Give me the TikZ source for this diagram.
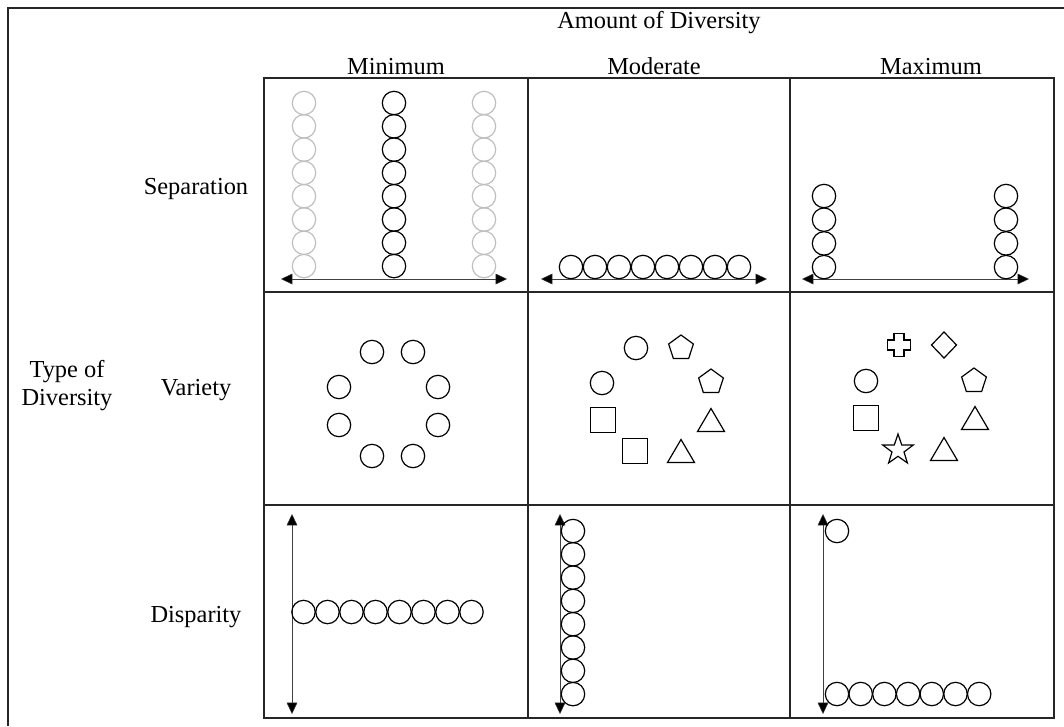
\documentclass[tikz,border=0pt]{standalone}
\usepackage{fontspec}
\setmainfont{Liberation Serif}
\usetikzlibrary{arrows.meta}

% small outlined shapes, centred at (#1,#2)
\newcommand{\cirk}[3][black]{\draw[shape line,draw=#1] (#2,#3) circle (11.7);}
\newcommand{\pentag}[2]{\draw[shape line,shift={(#1,#2)},yscale=-1]
  (90:13) -- (162:13) -- (234:13) -- (306:13) -- (18:13) -- cycle;}
\newcommand{\sqbox}[2]{\draw[shape line,shift={(#1,#2)}] (-12.5,-12.5) rectangle (12.5,12.5);}
\newcommand{\trig}[2]{\draw[shape line,shift={(#1,#2)},yscale=-1]
  (0,11.5) -- (13.5,-11.5) -- (-13.5,-11.5) -- cycle;}
\newcommand{\diam}[2]{\draw[shape line,shift={(#1,#2)}]
  (0,-13) -- (12.5,0) -- (0,13) -- (-12.5,0) -- cycle;}
\newcommand{\plusbox}[2]{\draw[shape line,shift={(#1,#2)}]
  (-5,-11.5) -- (5,-11.5) -- (5,-5) -- (11.5,-5) -- (11.5,5) -- (5,5) -- (5,11.5)
  -- (-5,11.5) -- (-5,5) -- (-11.5,5) -- (-11.5,-5) -- (-5,-5) -- cycle;}
\newcommand{\starr}[2]{\draw[shape line,shift={(#1,#2)},yscale=-1]
  (90:16) -- (126:6.3) -- (162:16) -- (198:6.3) -- (234:16) -- (270:6.3)
  -- (306:16) -- (342:6.3) -- (18:16) -- (54:6.3) -- cycle;}

\begin{document}
\begin{tikzpicture}[x=0.75pt,y=-0.75pt,
  shape line/.style={line width=0.9pt,line join=miter},
  gridline/.style={line width=1pt,draw=black!85},
  tip/.tip={Triangle[length=8.5pt,width=8pt,fill=black,line width=0.3pt]},
  axis/.style={line width=0.6pt,draw=black!75,tip-tip},
  label/.style={font=\fontsize{18.3}{21}\selectfont,anchor=base,inner sep=0pt,align=center}]
\useasboundingbox (0,0) rectangle (1064,726);

% outer frame
\draw[gridline] (1064,8) -- (8,8) -- (8,726);

% grid of nine cells
\draw[gridline] (264,78) rectangle (1054,718);
\draw[gridline] (528,78) -- (528,718) (790,78) -- (790,718);
\draw[gridline] (264,292) -- (1054,292) (264,505) -- (1054,505);

% headings
\node[label] (amount) at (659,28) {Amount of Diversity};
\node[label] (cmin) at (396,74) {Minimum};
\node[label] (cmod) at (654,74) {Moderate};
\node[label] (cmax) at (931,74) {Maximum};
\node[label] (rsep) at (196,194) {Separation};
\node[label] (rvar) at (196,395) {Variety};
\node[label] (rdis) at (196,622) {Disparity};
\node[label] (type1) at (67,377) {Type of};
\node[label] (type2) at (67,405) {Diversity};

% --- Separation ---
\coordinate (sa1) at (281,279); \coordinate (sa2) at (507,279);
\draw[axis] (sa1) -- (sa2);
\foreach \i in {0,...,7}{
  \cirk[black!25]{304}{103+23.3*\i}
  \cirk[black!25]{484}{103+23.3*\i}
  \cirk{394}{103+23.3*\i}
}
\coordinate (sb1) at (541,279); \coordinate (sb2) at (767,279);
\draw[axis] (sb1) -- (sb2);
\foreach \i in {0,...,7}{\cirk{571+24*\i}{267}}
\coordinate (sc1) at (802,279); \coordinate (sc2) at (1029,279);
\draw[axis] (sc1) -- (sc2);
\foreach \i in {0,...,3}{
  \cirk{824}{196+23.7*\i}
  \cirk{1006}{196+23.7*\i}
}

% --- Variety ---
\cirk{372}{352} \cirk{413}{352}
\cirk{339}{387} \cirk{438}{387}
\cirk{339}{425} \cirk{438}{425}
\cirk{372}{456} \cirk{413}{456}

\cirk{636}{348} \pentag{681}{348}
\cirk{602}{383} \pentag{711}{382}
\sqbox{603}{420} \trig{711}{420}
\sqbox{635}{451} \trig{681}{451}

\plusbox{899}{345} \diam{944}{345}
\cirk{866}{381} \pentag{974}{381}
\sqbox{866}{418} \trig{975}{418}
\starr{898}{450} \trig{944}{449}

% --- Disparity ---
\coordinate (da1) at (292,514); \coordinate (da2) at (292,714);
\draw[axis] (da1) -- (da2);
\foreach \i in {0,...,7}{\cirk{303.5+24*\i}{612}}
\coordinate (db1) at (560,514); \coordinate (db2) at (560,714);
\draw[axis] (db1) -- (db2);
\foreach \i in {0,...,7}{\cirk{573}{531+23.3*\i}}
\coordinate (dc1) at (823,514); \coordinate (dc2) at (823,714);
\draw[axis] (dc1) -- (dc2);
\cirk{837}{531}
\foreach \i in {0,...,6}{\cirk{837+23.7*\i}{694}}
\end{tikzpicture}
\end{document}
